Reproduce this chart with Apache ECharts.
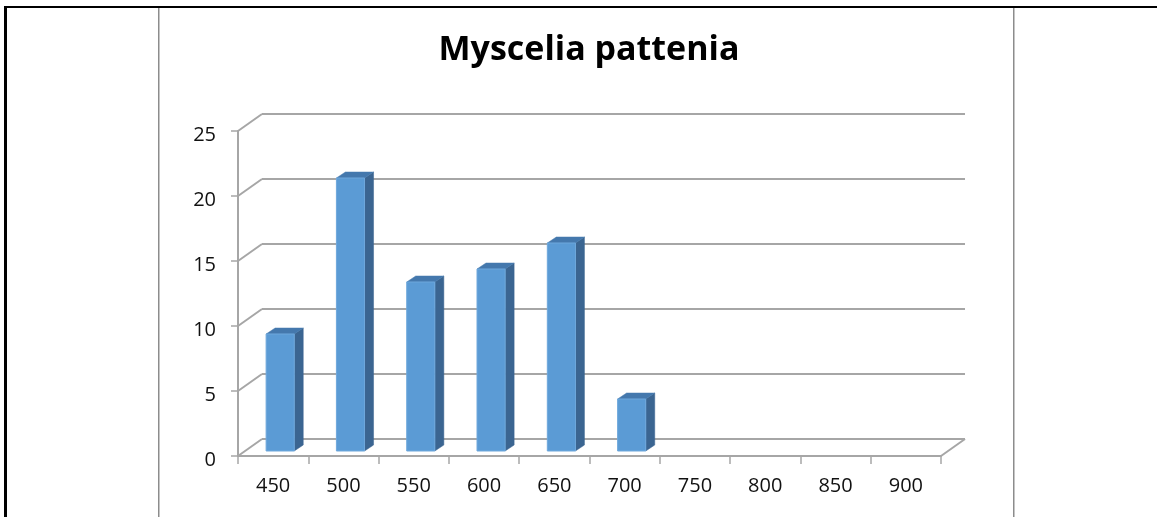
<!DOCTYPE html>
<html>
<head>
<meta charset="utf-8">
<script src="https://cdn.jsdelivr.net/npm/echarts@6/dist/echarts.min.js"></script>
<style>
html,body{margin:0;padding:0;background:#fff;}
#c{width:1157px;height:517px;}
</style>
</head>
<body>
<div id="c"></div>
<script>
var titleText = 'Myscelia pattenia';
var categories = ['450','500','550','600','650','700','750','800','850','900'];
var counts = [9, 21, 13, 14, 16, 4, 0, 0, 0, 0];
var yTicks = [0, 5, 10, 15, 20, 25];

var FL = 238, FT = 131, FW = 703, FH = 325;   // front plane
var DX = 24, DY = -17;                          // depth offset of back wall
var GRID = '#a6a6a6';

var chart = echarts.init(document.getElementById('c'));

function barItem(params, api) {
  var i = api.value(0), v = api.value(1);
  if (!v) return null;
  var c = api.coord([i, v]);
  var b = api.coord([i, 0]);
  var bw = api.size([1, 0])[0];
  var w = bw * 0.4;
  var left = c[0] - bw * 0.1, right = left + w;
  var top = c[1] - 5, bot = b[1] - 5;
  var dx = 9, dy = -6;
  return {
    type: 'group',
    children: [
      {type: 'polygon', shape: {points: [[right, bot], [right, top], [right + dx, top + dy], [right + dx, bot + dy]]},
       style: {fill: '#3b6591', stroke: '#3b6591', lineWidth: 0.5}},
      {type: 'polygon', shape: {points: [[left, top], [right, top], [right + dx, top + dy], [left + dx, top + dy]]},
       style: {fill: '#4478ad', stroke: '#4478ad', lineWidth: 0.5}},
      {type: 'rect', shape: {x: left, y: top, width: w, height: bot - top},
       style: {fill: '#5b9bd5', stroke: '#6fa8dc', lineWidth: 1}}
    ]
  };
}

function diagItem(params, api) {
  var v = api.value(0);
  var cs = params.coordSys;
  var y = api.coord([0, v])[1];
  var lines = [{type: 'line', shape: {x1: cs.x, y1: y, x2: cs.x + DX, y2: y + DY},
                style: {stroke: GRID, lineWidth: 2}}];
  if (v === 0) {
    lines.push({type: 'line', shape: {x1: cs.x + cs.width, y1: y, x2: cs.x + cs.width + DX, y2: y + DY},
                style: {stroke: GRID, lineWidth: 2}});
  }
  return {type: 'group', children: lines};
}

chart.setOption({
  animation: false,
  backgroundColor: '#fff',
  title: {
    text: titleText, left: 584, top: 28, textAlign: 'center',
    textStyle: {fontFamily: 'Open Sans', fontWeight: 'bold', fontSize: 34, color: '#000'}
  },
  grid: [
    {left: FL, top: FT, width: FW, height: FH, containLabel: false},
    {left: FL + DX, top: FT + DY, width: FW, height: FH, containLabel: false}
  ],
  xAxis: [
    {gridIndex: 0, type: 'category', data: categories, boundaryGap: true,
     axisLine: {show: true, lineStyle: {color: GRID, width: 2}},
     axisTick: {show: true, length: 8, lineStyle: {color: GRID, width: 1.5}},
     axisLabel: {fontFamily: 'Open Sans', fontSize: 20, color: '#111', margin: 20},
     splitLine: {show: false}},
    {gridIndex: 1, type: 'category', data: categories, show: false}
  ],
  yAxis: [
    {gridIndex: 0, type: 'value', min: 0, max: 25, interval: 5,
     axisLine: {show: true, lineStyle: {color: GRID, width: 2}},
     axisTick: {show: true, length: 7, lineStyle: {color: GRID, width: 1.5}},
     axisLabel: {fontFamily: 'Open Sans', fontSize: 20, color: '#111', margin: 22,
                 verticalAlign: 'top', lineHeight: 8},
     splitLine: {show: false}},
    {gridIndex: 1, type: 'value', min: 0, max: 25, interval: 5,
     axisLine: {show: false}, axisTick: {show: false}, axisLabel: {show: false},
     splitLine: {show: true, lineStyle: {color: GRID, width: 2}}}
  ],
  series: [
    {type: 'custom', xAxisIndex: 0, yAxisIndex: 0, renderItem: diagItem,
     data: yTicks.map(function (t) { return [t]; }), encode: {y: 0}, z: 1, silent: true},
    {type: 'custom', xAxisIndex: 0, yAxisIndex: 0, renderItem: barItem,
     data: counts.map(function (v, i) { return [i, v]; }), encode: {x: 0, y: 1}, z: 3}
  ],
  graphic: [
    {type: 'rect', shape: {x: 4, y: 6, width: 3, height: 520}, style: {fill: '#000'}, z: 10},
    {type: 'rect', shape: {x: 4, y: 6, width: 1160, height: 2}, style: {fill: '#000'}, z: 10},
    {type: 'rect', shape: {x: 158, y: 8, width: 1.5, height: 520}, style: {fill: '#8c8c8c'}, z: 10},
    {type: 'rect', shape: {x: 1013, y: 8, width: 1.5, height: 520}, style: {fill: '#8c8c8c'}, z: 10}
  ]
});
</script>
</body>
</html>
